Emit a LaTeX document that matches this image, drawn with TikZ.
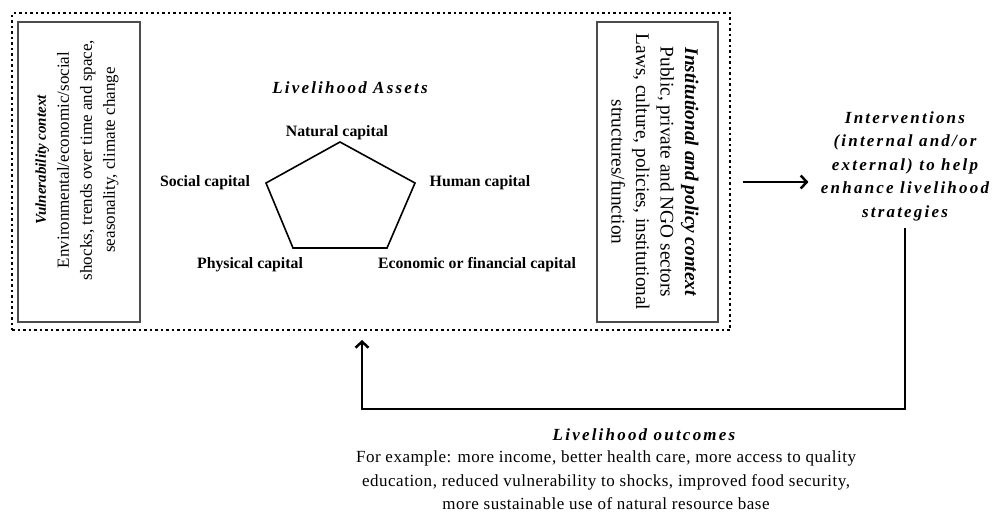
\documentclass[tikz,border=0pt]{standalone}
\usepackage{fontspec}
\setmainfont{Liberation Serif}
\usetikzlibrary{arrows.meta, positioning, calc}

\tikzset{
  frame/.style={draw, line width=2.5pt, dash pattern=on 2.5pt off 3pt},
  ctxbox/.style={draw=black!70, line width=1.5pt},
  ctxtext/.style={align=center, font=\fontsize{17}{23}\selectfont},
  capital/.style={font=\fontsize{15.8}{18}\selectfont\bfseries, inner sep=1pt},
  heading/.style={align=center, font=\fontsize{17}{23.5}\selectfont\bfseries\itshape\addfontfeature{LetterSpace=13}},
  bodytext/.style={align=center, inner sep=1pt, font=\fontsize{17}{23.5}\selectfont\addfontfeature{LetterSpace=3}},
  flow/.style={->, line width=2.5pt},
}

\begin{document}
\begin{tikzpicture}[x=1pt, y=-1pt, >={Straight Barb[length=6pt, width=13pt]}]
  \useasboundingbox (0,0) rectangle (996,512);

  % Frame and context boxes
  \node[frame, minimum width=718pt, minimum height=317pt] (frame) at (371,171.5) {};
  \node[ctxbox, minimum width=122pt, minimum height=300pt] (vuln) at (79,172) {};
  \node[ctxbox, minimum width=121pt, minimum height=300pt] (inst) at (657.5,172) {};
  \node[ctxtext, rotate=90] (vulntext) at (77,160)
    {{\fontsize{15}{23}\selectfont\bfseries\itshape Vulnerability context}\\Environmental/economic/social\\shocks, trends over time and space,\\seasonality, climate change};
  \node[ctxtext, rotate=-90, font=\fontsize{19.3}{24.5}\selectfont] (insttext) at (655,172)
    {\textbf{\textit{Institutional and policy context}}\\Public, private and NGO sectors\\Laws, culture, policies, institutional\\structures/function};

  % Livelihood assets
  \node[heading] (assets) at (350,88) {Livelihood Assets};
  \coordinate (pN) at (340,142);
  \coordinate (pH) at (415,183);
  \coordinate (pE) at (387,248);
  \coordinate (pP) at (293,248);
  \coordinate (pS) at (266,183);
  \draw[line width=1.6pt] (pN) -- (pH) -- (pE) -- (pP) -- (pS) -- cycle;
  \node[capital] (natural) at (337,133) {Natural capital};
  \node[capital] (social) at (205,183) {Social capital};
  \node[capital] (human) at (480,183) {Human capital};
  \node[capital] (physical) at (250,265) {Physical capital};
  \node[capital] (economic) at (477,265) {Economic or financial capital};

  % Interventions and feedback
  \node[heading] (interv) at (905,166)
    {Interventions\\(internal and/or\\external) to help\\enhance livelihood\\strategies};
  \coordinate (out) at (743,182);
  \draw[flow, shorten >=9pt] (out) -- (out -| interv.west);
  \coordinate (back) at (362,409);
  \coordinate (tip) at (362,340);
  \draw[flow] ([yshift=-4pt]interv.south) |- (back) -- (tip);

  % Outcomes
  \node[heading] (outcomes) at (644,435) {Livelihood outcomes};
  \node[bodytext] (examples) at (606,480.5)
    {For example: more income, better health care, more access to quality\\education, reduced vulnerability to shocks, improved food security,\\more sustainable use of natural resource base};
\end{tikzpicture}
\end{document}
